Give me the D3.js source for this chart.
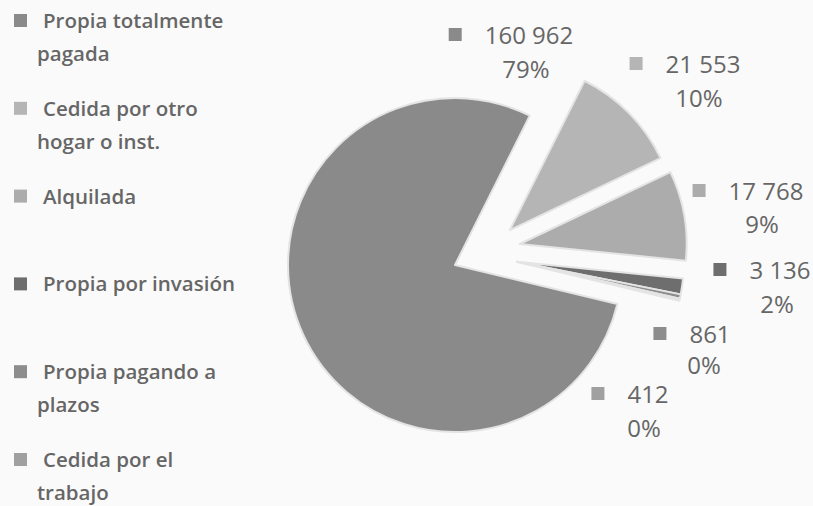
<!DOCTYPE html>
<html lang="es">
<head>
<meta charset="utf-8">
<script src="https://cdn.jsdelivr.net/npm/d3@7/dist/d3.min.js"></script>
<style>
  html, body { margin: 0; padding: 0; background: #fafafa; }
  svg { display: block; }
  text { font-family: "Open Sans", "DejaVu Sans", sans-serif; fill: #666666; }
</style>
</head>
<body>
<svg id="chart" width="813" height="506"></svg>
<script>
// Tenencia de la vivienda: categorías, viviendas y porcentajes
const categories = [
  "Propia totalmente pagada",
  "Cedida por otro hogar o inst.",
  "Alquilada",
  "Propia por invasión",
  "Propia pagando a plazos",
  "Cedida por el trabajo"
];
// Legend lines (wrapped as in the legend box)
const legendLines = [
  ["Propia totalmente", "pagada"],
  ["Cedida por otro", "hogar o inst."],
  ["Alquilada"],
  ["Propia por invasión"],
  ["Propia pagando a", "plazos"],
  ["Cedida por el", "trabajo"]
];
const values = [160962, 21553, 17768, 3136, 861, 412];
const valueLabels = ["160 962", "21 553", "17 768", "3 136", "861", "412"];
const percentLabels = ["79%", "10%", "9%", "2%", "0%", "0%"];
const sliceColors = ["#8a8a8a", "#b5b5b5", "#acacac", "#6e6e6e", "#8d8d8d", "#a0a0a0"];

const svg = d3.select("#chart");

// ---- pie ----
const cx = 455, cy = 265, R = 167;
const startDeg = 103.5;
const rad = Math.PI / 180;
const pie = d3.pie().sort(null).value(d => d)
  .startAngle(startDeg * rad)
  .endAngle(startDeg * rad + 2 * Math.PI);
const arcs = pie(values);
const arc = d3.arc().innerRadius(0).outerRadius(R);

// pulled-out slices: [direction in degrees clockwise from 12 o'clock, distance]
const explode = [null, [57.5, 65], [72, 68], [87, 62], [87, 62], [87, 62]];

const gPie = svg.append("g").attr("transform", `translate(${cx},${cy})`);
gPie.selectAll("path.slice")
  .data(arcs)
  .join("path")
  .attr("class", "slice")
  .attr("transform", (d, i) => {
    const e = explode[i];
    if (!e) return null;
    return `translate(${e[1] * Math.sin(e[0] * rad)},${-e[1] * Math.cos(e[0] * rad)})`;
  })
  .attr("d", arc)
  .attr("fill", (d, i) => sliceColors[i])
  .attr("stroke", "#e4e4e4")
  .attr("stroke-width", 2)
  .attr("stroke-linejoin", "round");

// ---- data labels ----
const labelPos = [
  [529, 44], [703, 73], [766, 200], [780, 279], [710, 343], [648, 403]
];
const pctPos = [
  [526, 78], [699, 107], [762, 233], [777, 313], [704, 374], [644, 437]
];
const gLab = svg.append("g");
arcs.forEach((d, i) => {
  const t = gLab.append("text")
    .attr("x", labelPos[i][0]).attr("y", labelPos[i][1])
    .attr("text-anchor", "middle")
    .attr("font-size", 24)
    .text(valueLabels[i]);
  const bb = t.node().getBBox();
  gLab.append("rect")
    .attr("x", bb.x - 36).attr("y", labelPos[i][1] - 16)
    .attr("width", 13).attr("height", 13)
    .attr("fill", sliceColors[i]);
  gLab.append("text")
    .attr("x", pctPos[i][0]).attr("y", pctPos[i][1])
    .attr("text-anchor", "middle")
    .attr("font-size", 24)
    .text(percentLabels[i]);
});

// ---- legend ----
const legendY = d3.scalePoint().domain(categories).range([28, 467]);
const gLeg = svg.append("g");
categories.forEach((c, i) => {
  const y = legendY(c);
  gLeg.append("rect")
    .attr("x", 14).attr("y", y - 14)
    .attr("width", 13).attr("height", 13)
    .attr("fill", sliceColors[i]);
  legendLines[i].forEach((ln, j) => {
    gLeg.append("text")
      .attr("x", j === 0 ? 43 : 37)
      .attr("y", y + j * 33)
      .attr("font-size", 20.5)
      .attr("font-weight", 600)
      .text(ln);
  });
});
</script>
</body>
</html>
